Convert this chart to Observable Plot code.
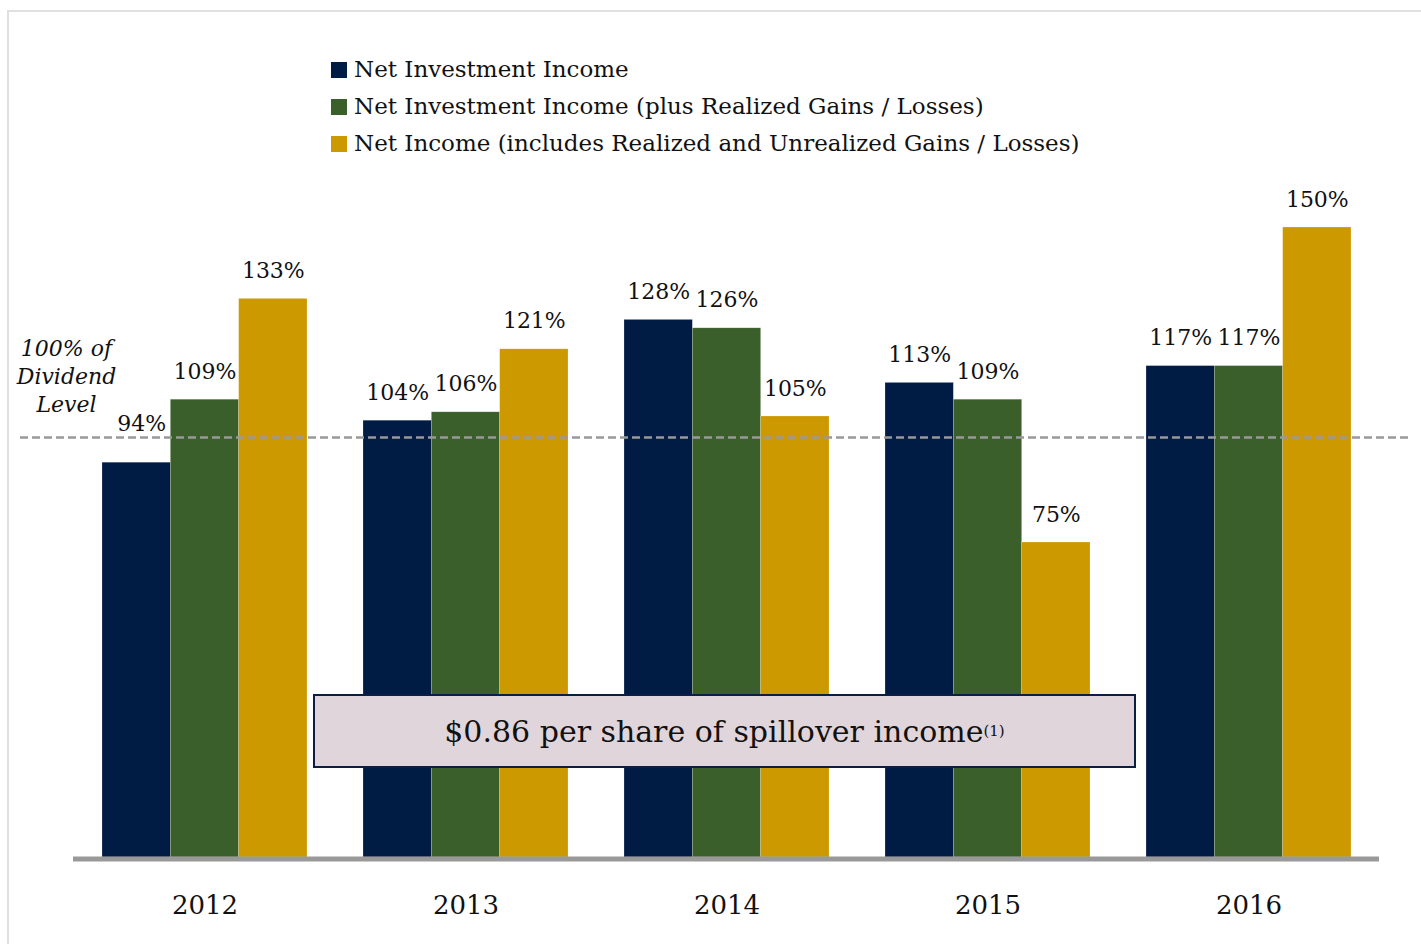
<!DOCTYPE html>
<html>
<head>
<meta charset="utf-8">
<script src="https://cdn.jsdelivr.net/npm/d3@7"></script>
<script src="https://cdn.jsdelivr.net/npm/@observablehq/plot@0.6"></script>
<style>
  html, body { margin: 0; padding: 0; background: #fff; }
  #wrap { position: relative; width: 1421px; height: 944px; overflow: hidden; font-family: "DejaVu Serif", serif; }
  #frame { position: absolute; left: 7px; top: 10px; width: 1430px; height: 960px; border-left: 2px solid #e2dfe3; border-top: 2px solid #e2dfe3; box-sizing: border-box; }
  #chart { position: absolute; left: 0; top: 0; }
  #legend { position: absolute; left: 331px; top: 51px; font-size: 23px; color: #111; }
  #legend .row { height: 37px; line-height: 37px; white-space: nowrap; display: flex; align-items: center; }
  #legend .sw { display: inline-block; width: 16px; height: 16px; margin-right: 7px; }
  #box { position: absolute; left: 313px; top: 694px; width: 823px; height: 74px; box-sizing: border-box;
         background: #e1d5dc; border: 2px solid #0b1f45; display: flex; align-items: center; justify-content: center;
         font-size: 30px; color: #111; }
  #box sup { font-size: 15px; vertical-align: 12px; }
</style>
</head>
<body>
<div id="wrap">
  <div id="chart"></div>
  <div id="frame"></div>
  <div id="legend"></div>
  <div id="box"></div>
</div>
<script>
// ---- data ----
const years = ["2012", "2013", "2014", "2015", "2016"];
const seriesNames = [
  "Net Investment Income",
  "Net Investment Income (plus Realized Gains / Losses)",
  "Net Income (includes Realized and Unrealized Gains / Losses)"
];
const netInvestmentIncome = [94, 104, 128, 113, 117];
const niiPlusRealized = [109, 106, 126, 109, 117];
const netIncome = [133, 121, 105, 75, 150];
const seriesColors = ["#001b44", "#3a5f2a", "#cc9900"];
const dividendLevel = 100;
const dividendLabel = "100% of\nDividend\nLevel";
const spilloverText = "$0.86 per share of spillover income";
const spilloverNote = "(1)";

// ---- build rows ----
const seriesValues = [netInvestmentIncome, niiPlusRealized, netIncome];
const rows = seriesValues.map((vals, s) => years.map((y, i) => ({year: y, value: vals[i], series: s})));

const bandW = 205;          // width of a year group in px
const sub = bandW / 3;      // width of each bar
const font = "DejaVu Serif";

const marks = [];
rows.forEach((data, s) => {
  marks.push(Plot.barY(data, {
    x: "year", y: "value", fill: seriesColors[s],
    insetLeft: s * sub, insetRight: (2 - s) * sub,
    stroke: "#ffffff", strokeOpacity: 0.35, strokeWidth: 0.6
  }));
});
// dashed dividend level line
marks.push(Plot.ruleY([dividendLevel], {stroke: "#999", strokeWidth: 2.5, strokeDasharray: "8,4"}));
// baseline
marks.push(Plot.ruleY([0], {stroke: "#999", strokeWidth: 5, dy: 1.5, insetLeft: 53, insetRight: 31}));
// value labels
rows.forEach((data, s) => {
  const near = d => d.value < dividendLevel && d.value > dividendLevel - 10;
  marks.push(Plot.text(data.filter(d => !near(d)), {
    x: "year", y: "value", text: d => d.value + "%",
    dx: (s - 1) * sub, dy: -28, lineAnchor: "middle",
    fontSize: 22, fontFamily: font, fill: "#111"
  }));
  marks.push(Plot.text(data.filter(near), {
    x: "year", y: "value", text: d => d.value + "%",
    dx: (s - 1) * sub + 5, dy: -39, lineAnchor: "middle",
    fontSize: 22, fontFamily: font, fill: "#111"
  }));
});
// dividend label
marks.push(Plot.text([dividendLevel], {
  y: d => d, text: () => dividendLabel, frameAnchor: "left",
  dx: 46, dy: -101, textAnchor: "middle", lineAnchor: "top", lineHeight: 1.26,
  fontSize: 22, fontStyle: "italic", fontFamily: font, fill: "#111"
}));
// year axis
marks.push(Plot.axisX({tickSize: 0, tickPadding: 38, fontSize: 26, fontFamily: font, fill: "#111", label: null}));

const chart = Plot.plot({
  width: 1421,
  height: 944,
  marginLeft: 20,
  marginRight: 11,
  marginTop: 0,
  marginBottom: 87,
  style: {fontFamily: font, background: "transparent", overflow: "visible"},
  x: {domain: years, range: [73, 1379], paddingInner: 56 / 261, paddingOuter: 0.109, axis: null, label: null},
  y: {domain: [0, 150], range: [857, 227], axis: null},
  marks
});
document.getElementById("chart").appendChild(chart);

// legend
const legend = document.getElementById("legend");
seriesNames.forEach((name, i) => {
  const row = document.createElement("div");
  row.className = "row";
  const sw = document.createElement("span");
  sw.className = "sw";
  sw.style.background = seriesColors[i];
  row.appendChild(sw);
  row.appendChild(document.createTextNode(name));
  legend.appendChild(row);
});

// spillover box
const box = document.getElementById("box");
box.appendChild(document.createTextNode(spilloverText));
const sup = document.createElement("sup");
sup.textContent = spilloverNote;
box.appendChild(sup);
</script>
</body>
</html>
